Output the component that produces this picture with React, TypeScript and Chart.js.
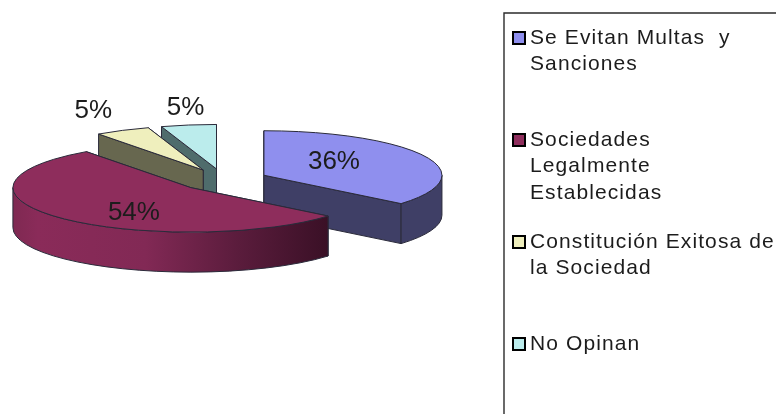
import React, { useEffect, useRef } from "react";
import { Chart, registerables } from "chart.js";

Chart.register(...registerables);

// Survey answers, in percent
const categories = [
  "Se Evitan Multas y Sanciones",
  "Sociedades Legalmente Establecidas",
  "Constitución Exitosa de la Sociedad",
  "No Opinan",
];
const values = [36, 54, 5, 5];

// Wrapped legend text, one row per line
const legendLines = [
  ["Se Evitan Multas  y", "Sanciones"],
  ["Sociedades", "Legalmente", "Establecidas"],
  ["Constitución Exitosa de", "la Sociedad"],
  ["No Opinan"],
];

const topColors = ["#8f8fee", "#8e2d5c", "#efefbd", "#bbecec"];
const wallColors = ["#3f3f66", "#8a2b59", "#67674f", "#4f6c6c"];
const maroonWallStops: [number, string][] = [
  [0, "#7f2952"],
  [0.08, "#8a2b59"],
  [0.42, "#822955"],
  [0.72, "#5a1c3c"],
  [1, "#3a1026"],
];
const edgeColor = "#2a2a3a";
const textColor = "#1c1c1c";
const fontFamily = '"Liberation Sans", Arial, sans-serif';

// Extruded pie projection
const squash = 0.25;
const wallDepth = 40;
const explode = 44.7;
const pieRadius = 178;
const paintOrder = [3, 2, 0, 1];

// Percent labels, placed relative to each slice's apex
const labelShift: [number, number][] = [
  [70, -13],
  [-57, 25],
  [-110, -59],
  [-31, -61],
];

// Legend frame and rows
const frame = { left: 504, top: 13 };
const legendX = 513;
const legendRowTop = 37;
const legendRowPitch = 102;
const legendLinePitch = 26.7;
const swatchSize = 12;

const pie3dPlugin = {
  id: "pie3d",
  beforeDatasetsDraw(chart: any) {
    const ctx: CanvasRenderingContext2D = chart.ctx;
    const arcs = chart.getDatasetMeta(0).data;

    for (const i of paintOrder) {
      const arc = arcs[i];
      const { x, y, startAngle, endAngle, outerRadius: R } = arc.getProps(
        ["x", "y", "startAngle", "endAngle", "outerRadius"],
        true
      );
      const mid = (startAngle + endAngle) / 2;
      const ax = x + Math.cos(mid) * explode;
      const ay = y + Math.sin(mid) * explode * squash;
      const ry = R * squash;
      const px = (a: number) => ax + R * Math.cos(a);
      const py = (a: number) => ay + ry * Math.sin(a);

      ctx.save();
      ctx.lineWidth = 1;
      ctx.lineJoin = "round";
      ctx.strokeStyle = edgeColor;

      let wallFill: string | CanvasGradient = wallColors[i];
      if (i === 1) {
        const g = ctx.createLinearGradient(ax - R, 0, px(startAngle), 0);
        maroonWallStops.forEach(([o, c]) => g.addColorStop(o, c));
        wallFill = g;
      }
      ctx.fillStyle = wallFill;

      // Flat cut faces, rear one first
      const cuts = [startAngle, endAngle].sort((p, q) => py(p) - py(q));
      for (const a of cuts) {
        ctx.beginPath();
        ctx.moveTo(ax, ay);
        ctx.lineTo(px(a), py(a));
        ctx.lineTo(px(a), py(a) + wallDepth);
        ctx.lineTo(ax, ay + wallDepth);
        ctx.closePath();
        ctx.fill();
        ctx.stroke();
      }

      // Curved rim, only where it faces the viewer
      const from = Math.max(startAngle, 0);
      const to = Math.min(endAngle, Math.PI);
      if (from < to) {
        ctx.beginPath();
        ctx.ellipse(ax, ay, R, ry, 0, from, to);
        ctx.ellipse(ax, ay + wallDepth, R, ry, 0, to, from, true);
        ctx.closePath();
        ctx.fill();
        ctx.stroke();
      }

      // Top face through the library's own arc element
      ctx.save();
      ctx.translate(ax, ay);
      ctx.scale(1, squash);
      ctx.translate(-x, -y);
      arc.draw(ctx);
      ctx.restore();

      ctx.beginPath();
      ctx.moveTo(ax, ay);
      ctx.ellipse(ax, ay, R, ry, 0, startAngle, endAngle);
      ctx.closePath();
      ctx.stroke();
      ctx.restore();
    }

    // Percent labels
    ctx.save();
    ctx.font = `26px ${fontFamily}`;
    ctx.fillStyle = textColor;
    ctx.textAlign = "center";
    ctx.textBaseline = "middle";
    arcs.forEach((arc: any, i: number) => {
      const { x, y, startAngle, endAngle } = arc.getProps(
        ["x", "y", "startAngle", "endAngle"],
        true
      );
      const mid = (startAngle + endAngle) / 2;
      const ax = x + Math.cos(mid) * explode;
      const ay = y + Math.sin(mid) * explode * squash;
      ctx.fillText(`${values[i]}%`, ax + labelShift[i][0], ay + labelShift[i][1]);
    });
    ctx.restore();
    return false;
  },
  afterDraw(chart: any) {
    const ctx: CanvasRenderingContext2D = chart.ctx;
    ctx.save();

    // Legend frame runs off the right and bottom of the canvas
    ctx.strokeStyle = "#2b2b2b";
    ctx.lineWidth = 1.4;
    ctx.beginPath();
    ctx.moveTo(frame.left, chart.height + 2);
    ctx.lineTo(frame.left, frame.top);
    ctx.lineTo(chart.width + 2, frame.top);
    ctx.stroke();

    ctx.font = `21px ${fontFamily}`;
    (ctx as any).letterSpacing = "1.1px";
    ctx.textBaseline = "middle";
    legendLines.forEach((lines, i) => {
      const rowY = legendRowTop + i * legendRowPitch;
      ctx.fillStyle = topColors[i];
      ctx.strokeStyle = "#000";
      ctx.lineWidth = 2;
      ctx.fillRect(legendX, rowY - swatchSize / 2 + 1, swatchSize, swatchSize);
      ctx.strokeRect(legendX, rowY - swatchSize / 2 + 1, swatchSize, swatchSize);
      ctx.fillStyle = textColor;
      lines.forEach((line, j) => {
        ctx.fillText(line, 530, rowY + j * legendLinePitch + 1);
      });
    });
    ctx.restore();
  },
};

export default function App() {
  const canvasRef = useRef<HTMLCanvasElement>(null);

  useEffect(() => {
    document.body.style.margin = "0";
    const chart = new Chart(canvasRef.current!, {
      type: "pie",
      data: {
        labels: categories,
        datasets: [
          {
            data: values,
            backgroundColor: topColors,
            borderWidth: 0,
            radius: pieRadius,
          },
        ],
      },
      options: {
        responsive: false,
        animation: false,
        events: [],
        radius: pieRadius,
        layout: { padding: { right: 329, bottom: 54 } },
        plugins: { legend: { display: false }, tooltip: { enabled: false } },
      } as any,
      plugins: [pie3dPlugin],
    });
    return () => chart.destroy();
  }, []);

  return (
    <div style={{ width: 776, height: 414, background: "#fff" }}>
      <canvas ref={canvasRef} width={776} height={414} style={{ display: "block" }} />
    </div>
  );
}
